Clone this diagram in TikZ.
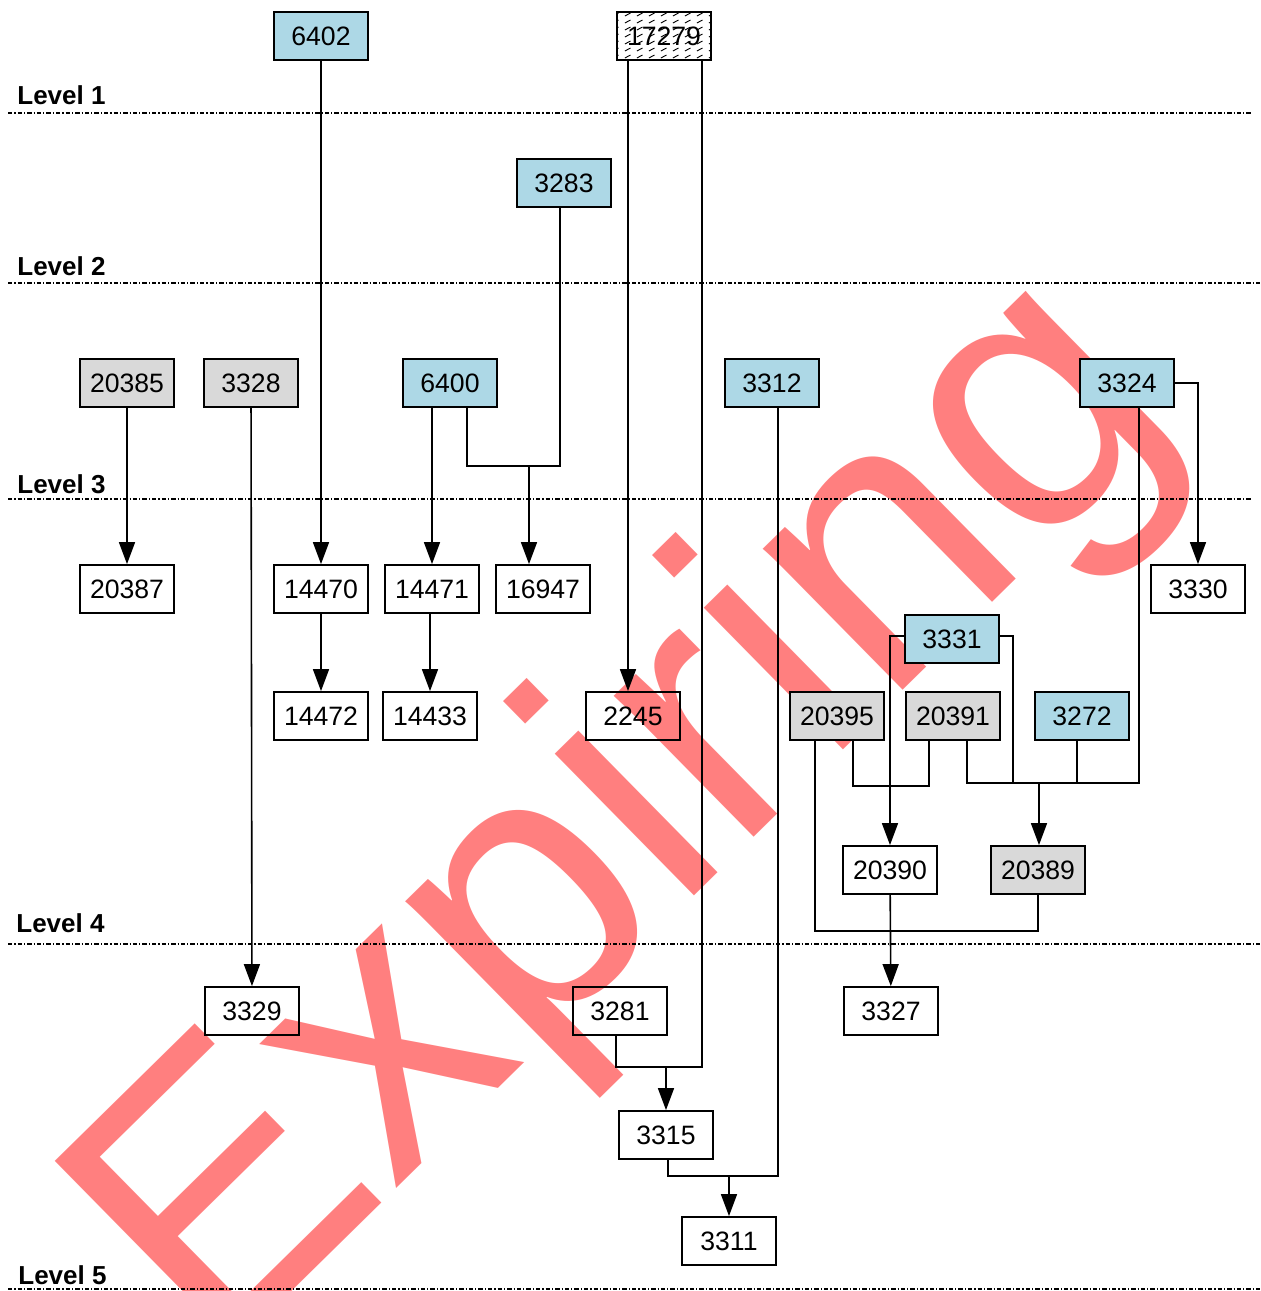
\documentclass[tikz,border=0pt]{standalone}
\usepackage{fontspec}
\setmainfont{Liberation Sans}
\usetikzlibrary{arrows.meta,patterns}

\definecolor{blaa}{HTML}{ADD8E6}
\definecolor{graa}{HTML}{D9D9D9}

% short slanted strokes for the hatched box
\pgfdeclarepatternformonly{skravur}{\pgfpointorigin}{\pgfpoint{6pt}{3.5pt}}{\pgfpoint{6pt}{3.5pt}}{%
  \pgfsetlinewidth{0.5pt}%
  \pgfpathmoveto{\pgfpoint{0.5pt}{0.6pt}}%
  \pgfpathlineto{\pgfpoint{3.5pt}{2.2pt}}%
  \pgfusepath{stroke}}

\tikzset{
    %Define standard arrow tip
    >={Triangle[length=11pt,width=8pt]},
    %Define style for boxes
    punktrect/.style={
    rectangle,
    draw=black, line width=0.9pt,
    minimum width=47pt,
    minimum height=24pt,
    inner sep=0pt,
    font=\fontsize{13.3}{15}\selectfont,
    text centered},
    blaapunkt/.style={punktrect, fill=blaa},
    graapunkt/.style={punktrect, fill=graa},
    % Define arrow style
    pil/.style={->, line width=0.8pt},
    linje/.style={line width=0.8pt},
    niva/.style={line width=0.6pt, dash pattern=on 2.2pt off 1pt on 0.6pt off 1pt},
    nivatekst/.style={anchor=base west, inner sep=0pt, font=\bfseries\fontsize{13}{15}\selectfont}
}

\begin{document}
\begin{tikzpicture}[x=0.5pt,y=-0.5pt]
\useasboundingbox (0,0) rectangle (1261,1291);

 %watermark
\node[rotate=44.5, anchor=base west, inner sep=0pt, text=red, text opacity=0.5,
      font=\fontsize{188}{188}\selectfont] (vannmerke) at (214,1368) {Expiring};

 %levels
\draw[niva] (8,113) -- (1252,113);
\draw[niva] (8,283) -- (1261,283);
\draw[niva] (8,499) -- (1252,499);
\draw[niva] (8,944) -- (1261,944);
\draw[niva] (8,1289) -- (1261,1289);
\node[nivatekst] (niva1) at (17,104) {Level 1};
\node[nivatekst] (niva2) at (17,275) {Level 2};
\node[nivatekst] (niva3) at (17,493) {Level 3};
\node[nivatekst] (niva4) at (16,932) {Level 4};
\node[nivatekst] (niva5) at (18,1284) {Level 5};

 %nodes
\node[blaapunkt] (n6402) at (321,36) {6402};
\node[punktrect, pattern=skravur] (n17279) at (664,36) {17279};
\node[blaapunkt] (n3283) at (564,183) {3283};
\node[graapunkt] (n20385) at (127,383) {20385};
\node[graapunkt] (n3328) at (251,383) {3328};
\node[blaapunkt] (n6400) at (450,383) {6400};
\node[blaapunkt] (n3312) at (772,383) {3312};
\node[blaapunkt] (n3324) at (1127,383) {3324};
\node[punktrect] (n20387) at (127,589) {20387};
\node[punktrect] (n14470) at (321,589) {14470};
\node[punktrect] (n14471) at (432,589) {14471};
\node[punktrect] (n16947) at (543,589) {16947};
\node[punktrect] (n3330) at (1198,589) {3330};
\node[blaapunkt] (n3331) at (952,639) {3331};
\node[punktrect] (n14472) at (321,716) {14472};
\node[punktrect] (n14433) at (430,716) {14433};
\node[punktrect] (n2245) at (633,716) {2245};
\node[graapunkt] (n20395) at (837,716) {20395};
\node[graapunkt] (n20391) at (953,716) {20391};
\node[blaapunkt] (n3272) at (1082,716) {3272};
\node[punktrect] (n20390) at (890,870) {20390};
\node[graapunkt] (n20389) at (1038,870) {20389};
\node[punktrect] (n3329) at (252,1011) {3329};
\node[punktrect] (n3281) at (620,1011) {3281};
\node[punktrect] (n3327) at (891,1011) {3327};
\node[punktrect] (n3315) at (666,1135) {3315};
\node[punktrect] (n3311) at (729,1241) {3311};

 %junctions
\coordinate (j16947) at (529,466);
\coordinate (j3315) at (666,1067);
\coordinate (j3311) at (729,1176);
\coordinate (j20389) at (1039,783);
\coordinate (j3331) at (1013,783);
\coordinate (j20391) at (853,786);
\coordinate (j20389b) at (815,931);

 %edges
\draw[pil] (n6402) -- (n14470);
\draw[pil] ([xshift=-18pt]n17279.south) -- ([xshift=-18pt]n17279.south |- n2245.north);
\draw[linje] ([xshift=19pt]n17279.south) |- (j3315);
\draw[linje] ([xshift=-2pt]n3281.south) |- (j3315);
\draw[pil] (j3315) -- (n3315);
\draw[linje] ([xshift=-2pt]n3283.south) |- (j16947);
\draw[linje] ([xshift=8.5pt]n6400.south) |- (j16947);
\draw[pil] (j16947) -- (j16947 |- n16947.north);
\draw[pil] ([xshift=-9pt]n6400.south) -- ([xshift=-9pt]n6400.south |- n14471.north);
\draw[pil] (n20385) -- (n20387);
\draw[pil] (n3328) -- (n3329);
\draw[pil] (n14470) -- (n14472);
\draw[pil] ([xshift=-1pt]n14471.south) -- ([xshift=-1pt]n14471.south |- n14433.north);
\draw[linje] ([xshift=3pt]n3312.south) |- (j3311);
\draw[linje] ([xshift=1pt]n3315.south) |- (j3311);
\draw[pil] (j3311) -- (n3311);
\draw[pil] (n3324.east) -| (n3330.north);
\draw[linje] ([xshift=6pt]n3324.south) |- (j20389);
\draw[linje] ([xshift=7pt]n20391.south) |- (j20389);
\draw[linje] ([xshift=-2.5pt]n3272.south) |- (j20389);
\draw[linje] ([yshift=1.5pt]n3331.east) -| (j3331);
\draw[pil] (j20389) -- (j20389 |- n20389.north);
\draw[pil] ([yshift=1.5pt]n3331.west) -| (n20390.north);
\draw[linje] ([xshift=8pt]n20395.south) -- (j20391) -| ([xshift=-12pt]n20391.south);
\draw[linje] ([xshift=-11pt]n20395.south) -- (j20389b) -| (n20389.south);
\draw[pil] (n20390) -- (n3327);

\end{tikzpicture}
\end{document}
